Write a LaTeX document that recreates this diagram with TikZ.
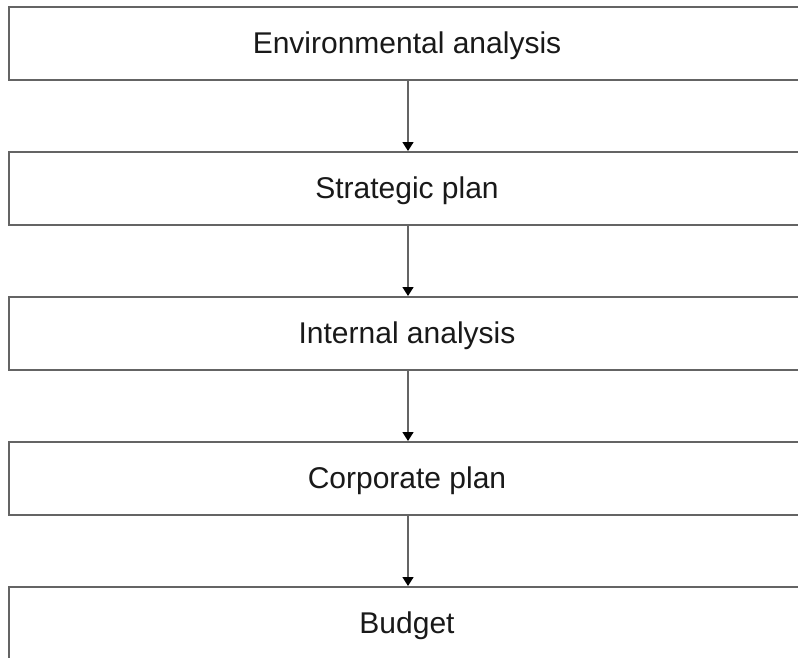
\documentclass[tikz,border=0pt]{standalone}
\usepackage{fontspec}
\setmainfont{Liberation Sans}
\usetikzlibrary{arrows.meta}
\definecolor{edgegray}{RGB}{100,100,100}
\tikzset{
  stagebox/.style={draw=edgegray, line width=2pt, rectangle, minimum width=796pt, minimum height=73pt, inner sep=0pt, text height=23pt, text depth=2pt, font=\fontsize{30}{36}\selectfont, text=black!90},
  flowarrow/.style={draw=edgegray, line width=1.5pt, -{Triangle[length=9pt,width=11pt,color=black]}, shorten >=-0.5pt}
}
\begin{document}
\begin{tikzpicture}[x=1pt,y=1pt]
\useasboundingbox (0,0) rectangle (798,-657);
\clip (0,0) rectangle (798,-657);
\fill[white] (0,0) rectangle (798,-657);
\node[stagebox] (env) at (407,-43) {Environmental analysis};
\node[stagebox] (strat) at (407,-188) {Strategic plan};
\node[stagebox] (int) at (407,-333) {Internal analysis};
\node[stagebox] (corp) at (407,-478) {Corporate plan};
\node[stagebox] (bud) at (407,-623) {Budget};
\draw[flowarrow] ([xshift=1pt]env.south) -- ([xshift=1pt]strat.north);
\draw[flowarrow] ([xshift=1pt]strat.south) -- ([xshift=1pt]int.north);
\draw[flowarrow] ([xshift=1pt]int.south) -- ([xshift=1pt]corp.north);
\draw[flowarrow] ([xshift=1pt]corp.south) -- ([xshift=1pt]bud.north);
\end{tikzpicture}
\end{document}
